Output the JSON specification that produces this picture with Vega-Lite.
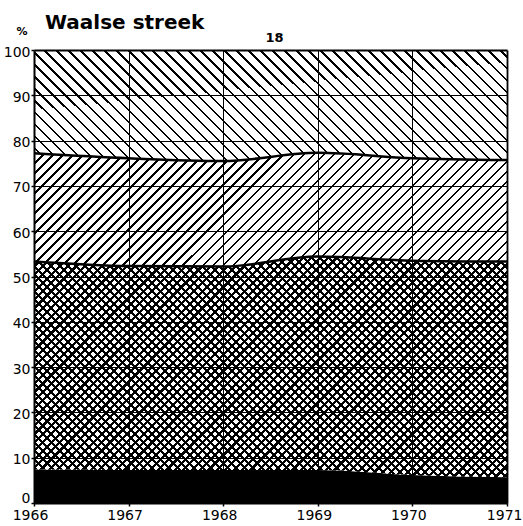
{
"$schema": "https://vega.github.io/schema/vega-lite/v6.json",
"width": 473, "height": 453,
"autosize": {"type": "none"},
"padding": {"left": 34, "top": 50, "right": 16, "bottom": 23},
"background": "white",
"config": {"view": {"stroke": null}, "font": "DejaVu Sans",
  "axis": {"labelFont": "DejaVu Sans", "titleFont": "DejaVu Sans", "labelColor": "#000", "titleColor": "#000", "tickColor": "#000", "domainColor": "#000", "gridColor": "#000", "gridOpacity": 1}},
"title": {"text": "Waalse streek", "anchor": "start", "frame": "group", "font": "DejaVu Sans", "fontSize": 20, "fontWeight": "bold", "color": "#000", "dx": 11, "dy": 23.5, "baseline": "alphabetic", "offset": 0},
"data": {"values": [
{"year":1966,"band":"a","share":7.4},{"year":1966,"band":"b","share":45.9},{"year":1966,"band":"c","share":23.9},{"year":1966,"band":"d","share":22.8},
{"year":1967,"band":"a","share":7.3},{"year":1967,"band":"b","share":45.0},{"year":1967,"band":"c","share":23.8},{"year":1967,"band":"d","share":23.9},
{"year":1968,"band":"a","share":7.3},{"year":1968,"band":"b","share":44.9},{"year":1968,"band":"c","share":23.3},{"year":1968,"band":"d","share":24.5},
{"year":1969,"band":"a","share":7.3},{"year":1969,"band":"b","share":47.1},{"year":1969,"band":"c","share":22.9},{"year":1969,"band":"d","share":22.7},
{"year":1970,"band":"a","share":6.2},{"year":1970,"band":"b","share":47.3},{"year":1970,"band":"c","share":22.6},{"year":1970,"band":"d","share":23.9},
{"year":1971,"band":"a","share":5.7},{"year":1971,"band":"b","share":47.6},{"year":1971,"band":"c","share":22.4},{"year":1971,"band":"d","share":24.3}
]},
"transform": [{"stack": "share", "groupby": ["year"], "sort": [{"field": "band", "order": "ascending"}], "as": ["lo", "hi"]}],
"encoding": {
  "x": {"field": "year", "type": "quantitative", "scale": {"domain": [1966, 1971], "nice": false, "zero": false},
    "axis": {"values": [1966,1967,1968,1969,1970,1971], "format": "d", "title": "18", "titleX": 240, "titleY": -462, "titleAlign": "center", "titleBaseline": "alphabetic", "titleFontSize": 13, "titleFontWeight": "bold",
      "labelFontSize": 14, "labelPadding": 2.5,
      "labelOffset": {"condition": {"test": "datum.value == 1971", "value": 15}, "value": -4},
      "labelAlign": {"condition": {"test": "datum.value == 1971", "value": "right"}, "value": "center"},
      "labelFlush": false, "labelOverlap": false, "labelBound": false, "tickSize": 3, "tickWidth": 1.5, "grid": true,
      "gridWidth": {"condition": {"test": "datum.value == 1971", "value": 1.8}, "value": 1}, "domainWidth": 2, "zindex": 1}},
  "y": {"field": "hi", "type": "quantitative", "scale": {"domain": [0, 100], "nice": false},
    "axis": {"values": [0,10,20,30,40,50,60,70,80,90,100], "title": "%", "titleAngle": 0, "titleAlign": "center", "titleBaseline": "alphabetic", "titleX": -12.5, "titleY": -16, "titleFontSize": 11, "titleFontWeight": "bold",
      "labelFontSize": 14, "labelPadding": 1,
      "labelOffset": {"condition": {"test": "datum.value == 0", "value": -5}, "value": 2},
      "tickSize": 3, "tickWidth": 1.5, "grid": true,
      "gridWidth": {"condition": {"test": "datum.value == 100", "value": 2}, "value": 1}, "domainWidth": 2, "zindex": 1}}
},
"layer": [
{"transform": [{"filter": "datum.band == 'a'"}], "mark": {"type": "area", "interpolate": "monotone", "fill": "#000"}, "encoding": {"y2": {"field": "lo"}}},
{"transform": [{"filter": "datum.band == 'b'"}], "mark": {"type": "area", "interpolate": "monotone", "fill": {"gradient": "linear", "x1": 0, "y1": 0, "x2": 1.2155, "y2": 0.5669, "stops": [
{"offset":0,"color":"#000"},{"offset":0.0045,"color":"#000"},{"offset":0.0045,"color":"#fff"},{"offset":0.012,"color":"#fff"},
{"offset":0.012,"color":"#000"},{"offset":0.0165,"color":"#000"},{"offset":0.0165,"color":"#fff"},{"offset":0.024,"color":"#fff"},
{"offset":0.024,"color":"#000"},{"offset":0.0285,"color":"#000"},{"offset":0.0285,"color":"#fff"},{"offset":0.036,"color":"#fff"},
{"offset":0.036,"color":"#000"},{"offset":0.0405,"color":"#000"},{"offset":0.0405,"color":"#fff"},{"offset":0.048,"color":"#fff"},
{"offset":0.048,"color":"#000"},{"offset":0.0525,"color":"#000"},{"offset":0.0525,"color":"#fff"},{"offset":0.06,"color":"#fff"},
{"offset":0.06,"color":"#000"},{"offset":0.0645,"color":"#000"},{"offset":0.0645,"color":"#fff"},{"offset":0.072,"color":"#fff"},
{"offset":0.072,"color":"#000"},{"offset":0.0765,"color":"#000"},{"offset":0.0765,"color":"#fff"},{"offset":0.084,"color":"#fff"},
{"offset":0.084,"color":"#000"},{"offset":0.0885,"color":"#000"},{"offset":0.0885,"color":"#fff"},{"offset":0.096,"color":"#fff"},
{"offset":0.096,"color":"#000"},{"offset":0.1005,"color":"#000"},{"offset":0.1005,"color":"#fff"},{"offset":0.108,"color":"#fff"},
{"offset":0.108,"color":"#000"},{"offset":0.1125,"color":"#000"},{"offset":0.1125,"color":"#fff"},{"offset":0.12,"color":"#fff"},
{"offset":0.12,"color":"#000"},{"offset":0.1245,"color":"#000"},{"offset":0.1245,"color":"#fff"},{"offset":0.132,"color":"#fff"},
{"offset":0.132,"color":"#000"},{"offset":0.1365,"color":"#000"},{"offset":0.1365,"color":"#fff"},{"offset":0.144,"color":"#fff"},
{"offset":0.144,"color":"#000"},{"offset":0.1485,"color":"#000"},{"offset":0.1485,"color":"#fff"},{"offset":0.156,"color":"#fff"},
{"offset":0.156,"color":"#000"},{"offset":0.1605,"color":"#000"},{"offset":0.1605,"color":"#fff"},{"offset":0.168,"color":"#fff"},
{"offset":0.168,"color":"#000"},{"offset":0.1725,"color":"#000"},{"offset":0.1725,"color":"#fff"},{"offset":0.18,"color":"#fff"},
{"offset":0.18,"color":"#000"},{"offset":0.1845,"color":"#000"},{"offset":0.1845,"color":"#fff"},{"offset":0.192,"color":"#fff"},
{"offset":0.192,"color":"#000"},{"offset":0.1965,"color":"#000"},{"offset":0.1965,"color":"#fff"},{"offset":0.204,"color":"#fff"},
{"offset":0.204,"color":"#000"},{"offset":0.2085,"color":"#000"},{"offset":0.2085,"color":"#fff"},{"offset":0.216,"color":"#fff"},
{"offset":0.216,"color":"#000"},{"offset":0.2205,"color":"#000"},{"offset":0.2205,"color":"#fff"},{"offset":0.228,"color":"#fff"},
{"offset":0.228,"color":"#000"},{"offset":0.2325,"color":"#000"},{"offset":0.2325,"color":"#fff"},{"offset":0.24,"color":"#fff"},
{"offset":0.24,"color":"#000"},{"offset":0.2445,"color":"#000"},{"offset":0.2445,"color":"#fff"},{"offset":0.252,"color":"#fff"},
{"offset":0.252,"color":"#000"},{"offset":0.2565,"color":"#000"},{"offset":0.2565,"color":"#fff"},{"offset":0.264,"color":"#fff"},
{"offset":0.264,"color":"#000"},{"offset":0.2685,"color":"#000"},{"offset":0.2685,"color":"#fff"},{"offset":0.276,"color":"#fff"},
{"offset":0.276,"color":"#000"},{"offset":0.2805,"color":"#000"},{"offset":0.2805,"color":"#fff"},{"offset":0.288,"color":"#fff"},
{"offset":0.288,"color":"#000"},{"offset":0.2925,"color":"#000"},{"offset":0.2925,"color":"#fff"},{"offset":0.3,"color":"#fff"},
{"offset":0.3,"color":"#000"},{"offset":0.3045,"color":"#000"},{"offset":0.3045,"color":"#fff"},{"offset":0.312,"color":"#fff"},
{"offset":0.312,"color":"#000"},{"offset":0.3165,"color":"#000"},{"offset":0.3165,"color":"#fff"},{"offset":0.324,"color":"#fff"},
{"offset":0.324,"color":"#000"},{"offset":0.3285,"color":"#000"},{"offset":0.3285,"color":"#fff"},{"offset":0.336,"color":"#fff"},
{"offset":0.336,"color":"#000"},{"offset":0.3405,"color":"#000"},{"offset":0.3405,"color":"#fff"},{"offset":0.348,"color":"#fff"},
{"offset":0.348,"color":"#000"},{"offset":0.3525,"color":"#000"},{"offset":0.3525,"color":"#fff"},{"offset":0.36,"color":"#fff"},
{"offset":0.36,"color":"#000"},{"offset":0.3645,"color":"#000"},{"offset":0.3645,"color":"#fff"},{"offset":0.372,"color":"#fff"},
{"offset":0.372,"color":"#000"},{"offset":0.3765,"color":"#000"},{"offset":0.3765,"color":"#fff"},{"offset":0.384,"color":"#fff"},
{"offset":0.384,"color":"#000"},{"offset":0.3885,"color":"#000"},{"offset":0.3885,"color":"#fff"},{"offset":0.396,"color":"#fff"},
{"offset":0.396,"color":"#000"},{"offset":0.4005,"color":"#000"},{"offset":0.4005,"color":"#fff"},{"offset":0.408,"color":"#fff"},
{"offset":0.408,"color":"#000"},{"offset":0.4125,"color":"#000"},{"offset":0.4125,"color":"#fff"},{"offset":0.42,"color":"#fff"},
{"offset":0.42,"color":"#000"},{"offset":0.4245,"color":"#000"},{"offset":0.4245,"color":"#fff"},{"offset":0.432,"color":"#fff"},
{"offset":0.432,"color":"#000"},{"offset":0.4365,"color":"#000"},{"offset":0.4365,"color":"#fff"},{"offset":0.444,"color":"#fff"},
{"offset":0.444,"color":"#000"},{"offset":0.4485,"color":"#000"},{"offset":0.4485,"color":"#fff"},{"offset":0.456,"color":"#fff"},
{"offset":0.456,"color":"#000"},{"offset":0.4605,"color":"#000"},{"offset":0.4605,"color":"#fff"},{"offset":0.468,"color":"#fff"},
{"offset":0.468,"color":"#000"},{"offset":0.4725,"color":"#000"},{"offset":0.4725,"color":"#fff"},{"offset":0.48,"color":"#fff"},
{"offset":0.48,"color":"#000"},{"offset":0.4845,"color":"#000"},{"offset":0.4845,"color":"#fff"},{"offset":0.492,"color":"#fff"},
{"offset":0.492,"color":"#000"},{"offset":0.4965,"color":"#000"},{"offset":0.4965,"color":"#fff"},{"offset":0.504,"color":"#fff"},
{"offset":0.504,"color":"#000"},{"offset":0.5085,"color":"#000"},{"offset":0.5085,"color":"#fff"},{"offset":0.516,"color":"#fff"},
{"offset":0.516,"color":"#000"},{"offset":0.5205,"color":"#000"},{"offset":0.5205,"color":"#fff"},{"offset":0.528,"color":"#fff"},
{"offset":0.528,"color":"#000"},{"offset":0.5325,"color":"#000"},{"offset":0.5325,"color":"#fff"},{"offset":0.54,"color":"#fff"},
{"offset":0.54,"color":"#000"},{"offset":0.5445,"color":"#000"},{"offset":0.5445,"color":"#fff"},{"offset":0.552,"color":"#fff"},
{"offset":0.552,"color":"#000"},{"offset":0.5565,"color":"#000"},{"offset":0.5565,"color":"#fff"},{"offset":0.564,"color":"#fff"},
{"offset":0.564,"color":"#000"},{"offset":0.5685,"color":"#000"},{"offset":0.5685,"color":"#fff"},{"offset":0.576,"color":"#fff"},
{"offset":0.576,"color":"#000"},{"offset":0.5805,"color":"#000"},{"offset":0.5805,"color":"#fff"},{"offset":0.588,"color":"#fff"},
{"offset":0.588,"color":"#000"},{"offset":0.5925,"color":"#000"},{"offset":0.5925,"color":"#fff"},{"offset":0.6,"color":"#fff"},
{"offset":0.6,"color":"#000"},{"offset":0.6045,"color":"#000"},{"offset":0.6045,"color":"#fff"},{"offset":0.612,"color":"#fff"},
{"offset":0.612,"color":"#000"},{"offset":0.6165,"color":"#000"},{"offset":0.6165,"color":"#fff"},{"offset":0.624,"color":"#fff"},
{"offset":0.624,"color":"#000"},{"offset":0.6285,"color":"#000"},{"offset":0.6285,"color":"#fff"},{"offset":0.636,"color":"#fff"},
{"offset":0.636,"color":"#000"},{"offset":0.6405,"color":"#000"},{"offset":0.6405,"color":"#fff"},{"offset":0.648,"color":"#fff"},
{"offset":0.648,"color":"#000"},{"offset":0.6525,"color":"#000"},{"offset":0.6525,"color":"#fff"},{"offset":0.66,"color":"#fff"},
{"offset":0.66,"color":"#000"},{"offset":0.6645,"color":"#000"},{"offset":0.6645,"color":"#fff"},{"offset":0.672,"color":"#fff"},
{"offset":0.672,"color":"#000"},{"offset":0.6765,"color":"#000"},{"offset":0.6765,"color":"#fff"},{"offset":0.684,"color":"#fff"},
{"offset":0.684,"color":"#000"},{"offset":0.6885,"color":"#000"},{"offset":0.6885,"color":"#fff"},{"offset":0.696,"color":"#fff"},
{"offset":0.696,"color":"#000"},{"offset":0.7005,"color":"#000"},{"offset":0.7005,"color":"#fff"},{"offset":0.708,"color":"#fff"},
{"offset":0.708,"color":"#000"},{"offset":0.7125,"color":"#000"},{"offset":0.7125,"color":"#fff"},{"offset":0.72,"color":"#fff"},
{"offset":0.72,"color":"#000"},{"offset":0.7245,"color":"#000"},{"offset":0.7245,"color":"#fff"},{"offset":0.732,"color":"#fff"},
{"offset":0.732,"color":"#000"},{"offset":0.7365,"color":"#000"},{"offset":0.7365,"color":"#fff"},{"offset":0.744,"color":"#fff"},
{"offset":0.744,"color":"#000"},{"offset":0.7485,"color":"#000"},{"offset":0.7485,"color":"#fff"},{"offset":0.756,"color":"#fff"},
{"offset":0.756,"color":"#000"},{"offset":0.7605,"color":"#000"},{"offset":0.7605,"color":"#fff"},{"offset":0.768,"color":"#fff"},
{"offset":0.768,"color":"#000"},{"offset":0.7725,"color":"#000"},{"offset":0.7725,"color":"#fff"},{"offset":0.78,"color":"#fff"},
{"offset":0.78,"color":"#000"},{"offset":0.7845,"color":"#000"},{"offset":0.7845,"color":"#fff"},{"offset":0.792,"color":"#fff"},
{"offset":0.792,"color":"#000"},{"offset":0.7965,"color":"#000"},{"offset":0.7965,"color":"#fff"},{"offset":0.804,"color":"#fff"},
{"offset":0.804,"color":"#000"},{"offset":0.8085,"color":"#000"},{"offset":0.8085,"color":"#fff"},{"offset":0.816,"color":"#fff"},
{"offset":0.816,"color":"#000"},{"offset":0.8205,"color":"#000"},{"offset":0.8205,"color":"#fff"},{"offset":0.828,"color":"#fff"},
{"offset":0.828,"color":"#000"},{"offset":0.8325,"color":"#000"},{"offset":0.8325,"color":"#fff"},{"offset":0.84,"color":"#fff"},
{"offset":0.84,"color":"#000"},{"offset":0.8445,"color":"#000"},{"offset":0.8445,"color":"#fff"},{"offset":0.852,"color":"#fff"},
{"offset":0.852,"color":"#000"},{"offset":0.8565,"color":"#000"},{"offset":0.8565,"color":"#fff"},{"offset":0.864,"color":"#fff"},
{"offset":0.864,"color":"#000"},{"offset":0.8685,"color":"#000"},{"offset":0.8685,"color":"#fff"},{"offset":0.876,"color":"#fff"},
{"offset":0.876,"color":"#000"},{"offset":0.8805,"color":"#000"},{"offset":0.8805,"color":"#fff"},{"offset":0.888,"color":"#fff"},
{"offset":0.888,"color":"#000"},{"offset":0.8925,"color":"#000"},{"offset":0.8925,"color":"#fff"},{"offset":0.9,"color":"#fff"},
{"offset":0.9,"color":"#000"},{"offset":0.9045,"color":"#000"},{"offset":0.9045,"color":"#fff"},{"offset":0.912,"color":"#fff"},
{"offset":0.912,"color":"#000"},{"offset":0.9165,"color":"#000"},{"offset":0.9165,"color":"#fff"},{"offset":0.924,"color":"#fff"},
{"offset":0.924,"color":"#000"},{"offset":0.9285,"color":"#000"},{"offset":0.9285,"color":"#fff"},{"offset":0.936,"color":"#fff"},
{"offset":0.936,"color":"#000"},{"offset":0.9405,"color":"#000"},{"offset":0.9405,"color":"#fff"},{"offset":0.948,"color":"#fff"},
{"offset":0.948,"color":"#000"},{"offset":0.9525,"color":"#000"},{"offset":0.9525,"color":"#fff"},{"offset":0.96,"color":"#fff"},
{"offset":0.96,"color":"#000"},{"offset":0.9645,"color":"#000"},{"offset":0.9645,"color":"#fff"},{"offset":0.972,"color":"#fff"},
{"offset":0.972,"color":"#000"},{"offset":0.9765,"color":"#000"},{"offset":0.9765,"color":"#fff"},{"offset":0.984,"color":"#fff"},
{"offset":0.984,"color":"#000"},{"offset":0.9885,"color":"#000"},{"offset":0.9885,"color":"#fff"},{"offset":0.996,"color":"#fff"}
]}}, "encoding": {"y2": {"field": "lo"}}},
{"transform": [{"filter": "datum.band == 'b'"}], "mark": {"type": "area", "interpolate": "monotone", "fill": {"gradient": "linear", "x1": 0, "y1": 1, "x2": 1.2155, "y2": 0.4331, "stops": [
{"offset":0,"color":"#000"},{"offset":0.0045,"color":"#000"},{"offset":0.0045,"color":"transparent"},{"offset":0.012,"color":"transparent"},
{"offset":0.012,"color":"#000"},{"offset":0.0165,"color":"#000"},{"offset":0.0165,"color":"transparent"},{"offset":0.024,"color":"transparent"},
{"offset":0.024,"color":"#000"},{"offset":0.0285,"color":"#000"},{"offset":0.0285,"color":"transparent"},{"offset":0.036,"color":"transparent"},
{"offset":0.036,"color":"#000"},{"offset":0.0405,"color":"#000"},{"offset":0.0405,"color":"transparent"},{"offset":0.048,"color":"transparent"},
{"offset":0.048,"color":"#000"},{"offset":0.0525,"color":"#000"},{"offset":0.0525,"color":"transparent"},{"offset":0.06,"color":"transparent"},
{"offset":0.06,"color":"#000"},{"offset":0.0645,"color":"#000"},{"offset":0.0645,"color":"transparent"},{"offset":0.072,"color":"transparent"},
{"offset":0.072,"color":"#000"},{"offset":0.0765,"color":"#000"},{"offset":0.0765,"color":"transparent"},{"offset":0.084,"color":"transparent"},
{"offset":0.084,"color":"#000"},{"offset":0.0885,"color":"#000"},{"offset":0.0885,"color":"transparent"},{"offset":0.096,"color":"transparent"},
{"offset":0.096,"color":"#000"},{"offset":0.1005,"color":"#000"},{"offset":0.1005,"color":"transparent"},{"offset":0.108,"color":"transparent"},
{"offset":0.108,"color":"#000"},{"offset":0.1125,"color":"#000"},{"offset":0.1125,"color":"transparent"},{"offset":0.12,"color":"transparent"},
{"offset":0.12,"color":"#000"},{"offset":0.1245,"color":"#000"},{"offset":0.1245,"color":"transparent"},{"offset":0.132,"color":"transparent"},
{"offset":0.132,"color":"#000"},{"offset":0.1365,"color":"#000"},{"offset":0.1365,"color":"transparent"},{"offset":0.144,"color":"transparent"},
{"offset":0.144,"color":"#000"},{"offset":0.1485,"color":"#000"},{"offset":0.1485,"color":"transparent"},{"offset":0.156,"color":"transparent"},
{"offset":0.156,"color":"#000"},{"offset":0.1605,"color":"#000"},{"offset":0.1605,"color":"transparent"},{"offset":0.168,"color":"transparent"},
{"offset":0.168,"color":"#000"},{"offset":0.1725,"color":"#000"},{"offset":0.1725,"color":"transparent"},{"offset":0.18,"color":"transparent"},
{"offset":0.18,"color":"#000"},{"offset":0.1845,"color":"#000"},{"offset":0.1845,"color":"transparent"},{"offset":0.192,"color":"transparent"},
{"offset":0.192,"color":"#000"},{"offset":0.1965,"color":"#000"},{"offset":0.1965,"color":"transparent"},{"offset":0.204,"color":"transparent"},
{"offset":0.204,"color":"#000"},{"offset":0.2085,"color":"#000"},{"offset":0.2085,"color":"transparent"},{"offset":0.216,"color":"transparent"},
{"offset":0.216,"color":"#000"},{"offset":0.2205,"color":"#000"},{"offset":0.2205,"color":"transparent"},{"offset":0.228,"color":"transparent"},
{"offset":0.228,"color":"#000"},{"offset":0.2325,"color":"#000"},{"offset":0.2325,"color":"transparent"},{"offset":0.24,"color":"transparent"},
{"offset":0.24,"color":"#000"},{"offset":0.2445,"color":"#000"},{"offset":0.2445,"color":"transparent"},{"offset":0.252,"color":"transparent"},
{"offset":0.252,"color":"#000"},{"offset":0.2565,"color":"#000"},{"offset":0.2565,"color":"transparent"},{"offset":0.264,"color":"transparent"},
{"offset":0.264,"color":"#000"},{"offset":0.2685,"color":"#000"},{"offset":0.2685,"color":"transparent"},{"offset":0.276,"color":"transparent"},
{"offset":0.276,"color":"#000"},{"offset":0.2805,"color":"#000"},{"offset":0.2805,"color":"transparent"},{"offset":0.288,"color":"transparent"},
{"offset":0.288,"color":"#000"},{"offset":0.2925,"color":"#000"},{"offset":0.2925,"color":"transparent"},{"offset":0.3,"color":"transparent"},
{"offset":0.3,"color":"#000"},{"offset":0.3045,"color":"#000"},{"offset":0.3045,"color":"transparent"},{"offset":0.312,"color":"transparent"},
{"offset":0.312,"color":"#000"},{"offset":0.3165,"color":"#000"},{"offset":0.3165,"color":"transparent"},{"offset":0.324,"color":"transparent"},
{"offset":0.324,"color":"#000"},{"offset":0.3285,"color":"#000"},{"offset":0.3285,"color":"transparent"},{"offset":0.336,"color":"transparent"},
{"offset":0.336,"color":"#000"},{"offset":0.3405,"color":"#000"},{"offset":0.3405,"color":"transparent"},{"offset":0.348,"color":"transparent"},
{"offset":0.348,"color":"#000"},{"offset":0.3525,"color":"#000"},{"offset":0.3525,"color":"transparent"},{"offset":0.36,"color":"transparent"},
{"offset":0.36,"color":"#000"},{"offset":0.3645,"color":"#000"},{"offset":0.3645,"color":"transparent"},{"offset":0.372,"color":"transparent"},
{"offset":0.372,"color":"#000"},{"offset":0.3765,"color":"#000"},{"offset":0.3765,"color":"transparent"},{"offset":0.384,"color":"transparent"},
{"offset":0.384,"color":"#000"},{"offset":0.3885,"color":"#000"},{"offset":0.3885,"color":"transparent"},{"offset":0.396,"color":"transparent"},
{"offset":0.396,"color":"#000"},{"offset":0.4005,"color":"#000"},{"offset":0.4005,"color":"transparent"},{"offset":0.408,"color":"transparent"},
{"offset":0.408,"color":"#000"},{"offset":0.4125,"color":"#000"},{"offset":0.4125,"color":"transparent"},{"offset":0.42,"color":"transparent"},
{"offset":0.42,"color":"#000"},{"offset":0.4245,"color":"#000"},{"offset":0.4245,"color":"transparent"},{"offset":0.432,"color":"transparent"},
{"offset":0.432,"color":"#000"},{"offset":0.4365,"color":"#000"},{"offset":0.4365,"color":"transparent"},{"offset":0.444,"color":"transparent"},
{"offset":0.444,"color":"#000"},{"offset":0.4485,"color":"#000"},{"offset":0.4485,"color":"transparent"},{"offset":0.456,"color":"transparent"},
{"offset":0.456,"color":"#000"},{"offset":0.4605,"color":"#000"},{"offset":0.4605,"color":"transparent"},{"offset":0.468,"color":"transparent"},
{"offset":0.468,"color":"#000"},{"offset":0.4725,"color":"#000"},{"offset":0.4725,"color":"transparent"},{"offset":0.48,"color":"transparent"},
{"offset":0.48,"color":"#000"},{"offset":0.4845,"color":"#000"},{"offset":0.4845,"color":"transparent"},{"offset":0.492,"color":"transparent"},
{"offset":0.492,"color":"#000"},{"offset":0.4965,"color":"#000"},{"offset":0.4965,"color":"transparent"},{"offset":0.504,"color":"transparent"},
{"offset":0.504,"color":"#000"},{"offset":0.5085,"color":"#000"},{"offset":0.5085,"color":"transparent"},{"offset":0.516,"color":"transparent"},
{"offset":0.516,"color":"#000"},{"offset":0.5205,"color":"#000"},{"offset":0.5205,"color":"transparent"},{"offset":0.528,"color":"transparent"},
{"offset":0.528,"color":"#000"},{"offset":0.5325,"color":"#000"},{"offset":0.5325,"color":"transparent"},{"offset":0.54,"color":"transparent"},
{"offset":0.54,"color":"#000"},{"offset":0.5445,"color":"#000"},{"offset":0.5445,"color":"transparent"},{"offset":0.552,"color":"transparent"},
{"offset":0.552,"color":"#000"},{"offset":0.5565,"color":"#000"},{"offset":0.5565,"color":"transparent"},{"offset":0.564,"color":"transparent"},
{"offset":0.564,"color":"#000"},{"offset":0.5685,"color":"#000"},{"offset":0.5685,"color":"transparent"},{"offset":0.576,"color":"transparent"},
{"offset":0.576,"color":"#000"},{"offset":0.5805,"color":"#000"},{"offset":0.5805,"color":"transparent"},{"offset":0.588,"color":"transparent"},
{"offset":0.588,"color":"#000"},{"offset":0.5925,"color":"#000"},{"offset":0.5925,"color":"transparent"},{"offset":0.6,"color":"transparent"},
{"offset":0.6,"color":"#000"},{"offset":0.6045,"color":"#000"},{"offset":0.6045,"color":"transparent"},{"offset":0.612,"color":"transparent"},
{"offset":0.612,"color":"#000"},{"offset":0.6165,"color":"#000"},{"offset":0.6165,"color":"transparent"},{"offset":0.624,"color":"transparent"},
{"offset":0.624,"color":"#000"},{"offset":0.6285,"color":"#000"},{"offset":0.6285,"color":"transparent"},{"offset":0.636,"color":"transparent"},
{"offset":0.636,"color":"#000"},{"offset":0.6405,"color":"#000"},{"offset":0.6405,"color":"transparent"},{"offset":0.648,"color":"transparent"},
{"offset":0.648,"color":"#000"},{"offset":0.6525,"color":"#000"},{"offset":0.6525,"color":"transparent"},{"offset":0.66,"color":"transparent"},
{"offset":0.66,"color":"#000"},{"offset":0.6645,"color":"#000"},{"offset":0.6645,"color":"transparent"},{"offset":0.672,"color":"transparent"},
{"offset":0.672,"color":"#000"},{"offset":0.6765,"color":"#000"},{"offset":0.6765,"color":"transparent"},{"offset":0.684,"color":"transparent"},
{"offset":0.684,"color":"#000"},{"offset":0.6885,"color":"#000"},{"offset":0.6885,"color":"transparent"},{"offset":0.696,"color":"transparent"},
{"offset":0.696,"color":"#000"},{"offset":0.7005,"color":"#000"},{"offset":0.7005,"color":"transparent"},{"offset":0.708,"color":"transparent"},
{"offset":0.708,"color":"#000"},{"offset":0.7125,"color":"#000"},{"offset":0.7125,"color":"transparent"},{"offset":0.72,"color":"transparent"},
{"offset":0.72,"color":"#000"},{"offset":0.7245,"color":"#000"},{"offset":0.7245,"color":"transparent"},{"offset":0.732,"color":"transparent"},
{"offset":0.732,"color":"#000"},{"offset":0.7365,"color":"#000"},{"offset":0.7365,"color":"transparent"},{"offset":0.744,"color":"transparent"},
{"offset":0.744,"color":"#000"},{"offset":0.7485,"color":"#000"},{"offset":0.7485,"color":"transparent"},{"offset":0.756,"color":"transparent"},
{"offset":0.756,"color":"#000"},{"offset":0.7605,"color":"#000"},{"offset":0.7605,"color":"transparent"},{"offset":0.768,"color":"transparent"},
{"offset":0.768,"color":"#000"},{"offset":0.7725,"color":"#000"},{"offset":0.7725,"color":"transparent"},{"offset":0.78,"color":"transparent"},
{"offset":0.78,"color":"#000"},{"offset":0.7845,"color":"#000"},{"offset":0.7845,"color":"transparent"},{"offset":0.792,"color":"transparent"},
{"offset":0.792,"color":"#000"},{"offset":0.7965,"color":"#000"},{"offset":0.7965,"color":"transparent"},{"offset":0.804,"color":"transparent"},
{"offset":0.804,"color":"#000"},{"offset":0.8085,"color":"#000"},{"offset":0.8085,"color":"transparent"},{"offset":0.816,"color":"transparent"},
{"offset":0.816,"color":"#000"},{"offset":0.8205,"color":"#000"},{"offset":0.8205,"color":"transparent"},{"offset":0.828,"color":"transparent"},
{"offset":0.828,"color":"#000"},{"offset":0.8325,"color":"#000"},{"offset":0.8325,"color":"transparent"},{"offset":0.84,"color":"transparent"},
{"offset":0.84,"color":"#000"},{"offset":0.8445,"color":"#000"},{"offset":0.8445,"color":"transparent"},{"offset":0.852,"color":"transparent"},
{"offset":0.852,"color":"#000"},{"offset":0.8565,"color":"#000"},{"offset":0.8565,"color":"transparent"},{"offset":0.864,"color":"transparent"},
{"offset":0.864,"color":"#000"},{"offset":0.8685,"color":"#000"},{"offset":0.8685,"color":"transparent"},{"offset":0.876,"color":"transparent"},
{"offset":0.876,"color":"#000"},{"offset":0.8805,"color":"#000"},{"offset":0.8805,"color":"transparent"},{"offset":0.888,"color":"transparent"},
{"offset":0.888,"color":"#000"},{"offset":0.8925,"color":"#000"},{"offset":0.8925,"color":"transparent"},{"offset":0.9,"color":"transparent"},
{"offset":0.9,"color":"#000"},{"offset":0.9045,"color":"#000"},{"offset":0.9045,"color":"transparent"},{"offset":0.912,"color":"transparent"},
{"offset":0.912,"color":"#000"},{"offset":0.9165,"color":"#000"},{"offset":0.9165,"color":"transparent"},{"offset":0.924,"color":"transparent"},
{"offset":0.924,"color":"#000"},{"offset":0.9285,"color":"#000"},{"offset":0.9285,"color":"transparent"},{"offset":0.936,"color":"transparent"},
{"offset":0.936,"color":"#000"},{"offset":0.9405,"color":"#000"},{"offset":0.9405,"color":"transparent"},{"offset":0.948,"color":"transparent"},
{"offset":0.948,"color":"#000"},{"offset":0.9525,"color":"#000"},{"offset":0.9525,"color":"transparent"},{"offset":0.96,"color":"transparent"},
{"offset":0.96,"color":"#000"},{"offset":0.9645,"color":"#000"},{"offset":0.9645,"color":"transparent"},{"offset":0.972,"color":"transparent"},
{"offset":0.972,"color":"#000"},{"offset":0.9765,"color":"#000"},{"offset":0.9765,"color":"transparent"},{"offset":0.984,"color":"transparent"},
{"offset":0.984,"color":"#000"},{"offset":0.9885,"color":"#000"},{"offset":0.9885,"color":"transparent"},{"offset":0.996,"color":"transparent"}
]}}, "encoding": {"y2": {"field": "lo"}}},
{"transform": [{"filter": "datum.band == 'c'"}], "mark": {"type": "area", "interpolate": "monotone", "fill": {"gradient": "linear", "x1": 0, "y1": 0, "x2": 1.25, "y2": 0.3005, "stops": [
{"offset":0,"color":"#000"},{"offset":0.0035,"color":"#000"},{"offset":0.0035,"color":"#fff"},{"offset":0.016,"color":"#fff"},
{"offset":0.016,"color":"#000"},{"offset":0.0195,"color":"#000"},{"offset":0.0195,"color":"#fff"},{"offset":0.032,"color":"#fff"},
{"offset":0.032,"color":"#000"},{"offset":0.0355,"color":"#000"},{"offset":0.0355,"color":"#fff"},{"offset":0.048,"color":"#fff"},
{"offset":0.048,"color":"#000"},{"offset":0.0515,"color":"#000"},{"offset":0.0515,"color":"#fff"},{"offset":0.064,"color":"#fff"},
{"offset":0.064,"color":"#000"},{"offset":0.0675,"color":"#000"},{"offset":0.0675,"color":"#fff"},{"offset":0.08,"color":"#fff"},
{"offset":0.08,"color":"#000"},{"offset":0.0835,"color":"#000"},{"offset":0.0835,"color":"#fff"},{"offset":0.096,"color":"#fff"},
{"offset":0.096,"color":"#000"},{"offset":0.0995,"color":"#000"},{"offset":0.0995,"color":"#fff"},{"offset":0.112,"color":"#fff"},
{"offset":0.112,"color":"#000"},{"offset":0.1155,"color":"#000"},{"offset":0.1155,"color":"#fff"},{"offset":0.128,"color":"#fff"},
{"offset":0.128,"color":"#000"},{"offset":0.1315,"color":"#000"},{"offset":0.1315,"color":"#fff"},{"offset":0.144,"color":"#fff"},
{"offset":0.144,"color":"#000"},{"offset":0.1475,"color":"#000"},{"offset":0.1475,"color":"#fff"},{"offset":0.16,"color":"#fff"},
{"offset":0.16,"color":"#000"},{"offset":0.1635,"color":"#000"},{"offset":0.1635,"color":"#fff"},{"offset":0.176,"color":"#fff"},
{"offset":0.176,"color":"#000"},{"offset":0.1795,"color":"#000"},{"offset":0.1795,"color":"#fff"},{"offset":0.192,"color":"#fff"},
{"offset":0.192,"color":"#000"},{"offset":0.1955,"color":"#000"},{"offset":0.1955,"color":"#fff"},{"offset":0.208,"color":"#fff"},
{"offset":0.208,"color":"#000"},{"offset":0.2115,"color":"#000"},{"offset":0.2115,"color":"#fff"},{"offset":0.224,"color":"#fff"},
{"offset":0.224,"color":"#000"},{"offset":0.2275,"color":"#000"},{"offset":0.2275,"color":"#fff"},{"offset":0.24,"color":"#fff"},
{"offset":0.24,"color":"#000"},{"offset":0.2435,"color":"#000"},{"offset":0.2435,"color":"#fff"},{"offset":0.256,"color":"#fff"},
{"offset":0.256,"color":"#000"},{"offset":0.2595,"color":"#000"},{"offset":0.2595,"color":"#fff"},{"offset":0.272,"color":"#fff"},
{"offset":0.272,"color":"#000"},{"offset":0.2755,"color":"#000"},{"offset":0.2755,"color":"#fff"},{"offset":0.288,"color":"#fff"},
{"offset":0.288,"color":"#000"},{"offset":0.2915,"color":"#000"},{"offset":0.2915,"color":"#fff"},{"offset":0.304,"color":"#fff"},
{"offset":0.304,"color":"#000"},{"offset":0.3075,"color":"#000"},{"offset":0.3075,"color":"#fff"},{"offset":0.32,"color":"#fff"},
{"offset":0.32,"color":"#000"},{"offset":0.3235,"color":"#000"},{"offset":0.3235,"color":"#fff"},{"offset":0.336,"color":"#fff"},
{"offset":0.336,"color":"#000"},{"offset":0.3395,"color":"#000"},{"offset":0.3395,"color":"#fff"},{"offset":0.352,"color":"#fff"},
{"offset":0.352,"color":"#000"},{"offset":0.3555,"color":"#000"},{"offset":0.3555,"color":"#fff"},{"offset":0.368,"color":"#fff"},
{"offset":0.368,"color":"#000"},{"offset":0.3715,"color":"#000"},{"offset":0.3715,"color":"#fff"},{"offset":0.384,"color":"#fff"},
{"offset":0.384,"color":"#000"},{"offset":0.3875,"color":"#000"},{"offset":0.3875,"color":"#fff"},{"offset":0.4,"color":"#fff"},
{"offset":0.4,"color":"#000"},{"offset":0.4035,"color":"#000"},{"offset":0.4035,"color":"#fff"},{"offset":0.416,"color":"#fff"},
{"offset":0.416,"color":"#000"},{"offset":0.4195,"color":"#000"},{"offset":0.4195,"color":"#fff"},{"offset":0.432,"color":"#fff"},
{"offset":0.432,"color":"#000"},{"offset":0.4355,"color":"#000"},{"offset":0.4355,"color":"#fff"},{"offset":0.448,"color":"#fff"},
{"offset":0.448,"color":"#000"},{"offset":0.4515,"color":"#000"},{"offset":0.4515,"color":"#fff"},{"offset":0.464,"color":"#fff"},
{"offset":0.464,"color":"#000"},{"offset":0.4675,"color":"#000"},{"offset":0.4675,"color":"#fff"},{"offset":0.48,"color":"#fff"},
{"offset":0.48,"color":"#000"},{"offset":0.4835,"color":"#000"},{"offset":0.4835,"color":"#fff"},{"offset":0.496,"color":"#fff"},
{"offset":0.496,"color":"#000"},{"offset":0.4995,"color":"#000"},{"offset":0.4995,"color":"#fff"},{"offset":0.512,"color":"#fff"},
{"offset":0.512,"color":"#000"},{"offset":0.5155,"color":"#000"},{"offset":0.5155,"color":"#fff"},{"offset":0.528,"color":"#fff"},
{"offset":0.528,"color":"#000"},{"offset":0.5315,"color":"#000"},{"offset":0.5315,"color":"#fff"},{"offset":0.544,"color":"#fff"},
{"offset":0.544,"color":"#000"},{"offset":0.5475,"color":"#000"},{"offset":0.5475,"color":"#fff"},{"offset":0.56,"color":"#fff"},
{"offset":0.56,"color":"#000"},{"offset":0.5635,"color":"#000"},{"offset":0.5635,"color":"#fff"},{"offset":0.576,"color":"#fff"},
{"offset":0.576,"color":"#000"},{"offset":0.5795,"color":"#000"},{"offset":0.5795,"color":"#fff"},{"offset":0.592,"color":"#fff"},
{"offset":0.592,"color":"#000"},{"offset":0.5955,"color":"#000"},{"offset":0.5955,"color":"#fff"},{"offset":0.608,"color":"#fff"},
{"offset":0.608,"color":"#000"},{"offset":0.6115,"color":"#000"},{"offset":0.6115,"color":"#fff"},{"offset":0.624,"color":"#fff"},
{"offset":0.624,"color":"#000"},{"offset":0.6275,"color":"#000"},{"offset":0.6275,"color":"#fff"},{"offset":0.64,"color":"#fff"},
{"offset":0.64,"color":"#000"},{"offset":0.6435,"color":"#000"},{"offset":0.6435,"color":"#fff"},{"offset":0.656,"color":"#fff"},
{"offset":0.656,"color":"#000"},{"offset":0.6595,"color":"#000"},{"offset":0.6595,"color":"#fff"},{"offset":0.672,"color":"#fff"},
{"offset":0.672,"color":"#000"},{"offset":0.6755,"color":"#000"},{"offset":0.6755,"color":"#fff"},{"offset":0.688,"color":"#fff"},
{"offset":0.688,"color":"#000"},{"offset":0.6915,"color":"#000"},{"offset":0.6915,"color":"#fff"},{"offset":0.704,"color":"#fff"},
{"offset":0.704,"color":"#000"},{"offset":0.7075,"color":"#000"},{"offset":0.7075,"color":"#fff"},{"offset":0.72,"color":"#fff"},
{"offset":0.72,"color":"#000"},{"offset":0.7235,"color":"#000"},{"offset":0.7235,"color":"#fff"},{"offset":0.736,"color":"#fff"},
{"offset":0.736,"color":"#000"},{"offset":0.7395,"color":"#000"},{"offset":0.7395,"color":"#fff"},{"offset":0.752,"color":"#fff"},
{"offset":0.752,"color":"#000"},{"offset":0.7555,"color":"#000"},{"offset":0.7555,"color":"#fff"},{"offset":0.768,"color":"#fff"},
{"offset":0.768,"color":"#000"},{"offset":0.7715,"color":"#000"},{"offset":0.7715,"color":"#fff"},{"offset":0.784,"color":"#fff"},
{"offset":0.784,"color":"#000"},{"offset":0.7875,"color":"#000"},{"offset":0.7875,"color":"#fff"},{"offset":0.8,"color":"#fff"},
{"offset":0.8,"color":"#000"},{"offset":0.8035,"color":"#000"},{"offset":0.8035,"color":"#fff"},{"offset":0.816,"color":"#fff"},
{"offset":0.816,"color":"#000"},{"offset":0.8195,"color":"#000"},{"offset":0.8195,"color":"#fff"},{"offset":0.832,"color":"#fff"},
{"offset":0.832,"color":"#000"},{"offset":0.8355,"color":"#000"},{"offset":0.8355,"color":"#fff"},{"offset":0.848,"color":"#fff"},
{"offset":0.848,"color":"#000"},{"offset":0.8515,"color":"#000"},{"offset":0.8515,"color":"#fff"},{"offset":0.864,"color":"#fff"},
{"offset":0.864,"color":"#000"},{"offset":0.8675,"color":"#000"},{"offset":0.8675,"color":"#fff"},{"offset":0.88,"color":"#fff"},
{"offset":0.88,"color":"#000"},{"offset":0.8835,"color":"#000"},{"offset":0.8835,"color":"#fff"},{"offset":0.896,"color":"#fff"},
{"offset":0.896,"color":"#000"},{"offset":0.8995,"color":"#000"},{"offset":0.8995,"color":"#fff"},{"offset":0.912,"color":"#fff"},
{"offset":0.912,"color":"#000"},{"offset":0.9155,"color":"#000"},{"offset":0.9155,"color":"#fff"},{"offset":0.928,"color":"#fff"},
{"offset":0.928,"color":"#000"},{"offset":0.9315,"color":"#000"},{"offset":0.9315,"color":"#fff"},{"offset":0.944,"color":"#fff"}
]}}, "encoding": {"y2": {"field": "lo"}}},
{"transform": [{"filter": "datum.band == 'd'"}], "mark": {"type": "area", "interpolate": "monotone", "fill": {"gradient": "linear", "x1": 0, "y1": 1, "x2": 1.2023, "y2": 0.7178, "stops": [
{"offset":0,"color":"#000"},{"offset":0.0036,"color":"#000"},{"offset":0.0036,"color":"#fff"},{"offset":0.02,"color":"#fff"},
{"offset":0.02,"color":"#000"},{"offset":0.0236,"color":"#000"},{"offset":0.0236,"color":"#fff"},{"offset":0.04,"color":"#fff"},
{"offset":0.04,"color":"#000"},{"offset":0.0436,"color":"#000"},{"offset":0.0436,"color":"#fff"},{"offset":0.06,"color":"#fff"},
{"offset":0.06,"color":"#000"},{"offset":0.0636,"color":"#000"},{"offset":0.0636,"color":"#fff"},{"offset":0.08,"color":"#fff"},
{"offset":0.08,"color":"#000"},{"offset":0.0836,"color":"#000"},{"offset":0.0836,"color":"#fff"},{"offset":0.1,"color":"#fff"},
{"offset":0.1,"color":"#000"},{"offset":0.1036,"color":"#000"},{"offset":0.1036,"color":"#fff"},{"offset":0.12,"color":"#fff"},
{"offset":0.12,"color":"#000"},{"offset":0.1236,"color":"#000"},{"offset":0.1236,"color":"#fff"},{"offset":0.14,"color":"#fff"},
{"offset":0.14,"color":"#000"},{"offset":0.1436,"color":"#000"},{"offset":0.1436,"color":"#fff"},{"offset":0.16,"color":"#fff"},
{"offset":0.16,"color":"#000"},{"offset":0.1636,"color":"#000"},{"offset":0.1636,"color":"#fff"},{"offset":0.18,"color":"#fff"},
{"offset":0.18,"color":"#000"},{"offset":0.1836,"color":"#000"},{"offset":0.1836,"color":"#fff"},{"offset":0.2,"color":"#fff"},
{"offset":0.2,"color":"#000"},{"offset":0.2036,"color":"#000"},{"offset":0.2036,"color":"#fff"},{"offset":0.22,"color":"#fff"},
{"offset":0.22,"color":"#000"},{"offset":0.2236,"color":"#000"},{"offset":0.2236,"color":"#fff"},{"offset":0.24,"color":"#fff"},
{"offset":0.24,"color":"#000"},{"offset":0.2436,"color":"#000"},{"offset":0.2436,"color":"#fff"},{"offset":0.26,"color":"#fff"},
{"offset":0.26,"color":"#000"},{"offset":0.2636,"color":"#000"},{"offset":0.2636,"color":"#fff"},{"offset":0.28,"color":"#fff"},
{"offset":0.28,"color":"#000"},{"offset":0.2836,"color":"#000"},{"offset":0.2836,"color":"#fff"},{"offset":0.3,"color":"#fff"},
{"offset":0.3,"color":"#000"},{"offset":0.3036,"color":"#000"},{"offset":0.3036,"color":"#fff"},{"offset":0.32,"color":"#fff"},
{"offset":0.32,"color":"#000"},{"offset":0.3236,"color":"#000"},{"offset":0.3236,"color":"#fff"},{"offset":0.34,"color":"#fff"},
{"offset":0.34,"color":"#000"},{"offset":0.3436,"color":"#000"},{"offset":0.3436,"color":"#fff"},{"offset":0.36,"color":"#fff"},
{"offset":0.36,"color":"#000"},{"offset":0.3636,"color":"#000"},{"offset":0.3636,"color":"#fff"},{"offset":0.38,"color":"#fff"},
{"offset":0.38,"color":"#000"},{"offset":0.3836,"color":"#000"},{"offset":0.3836,"color":"#fff"},{"offset":0.4,"color":"#fff"},
{"offset":0.4,"color":"#000"},{"offset":0.4036,"color":"#000"},{"offset":0.4036,"color":"#fff"},{"offset":0.42,"color":"#fff"},
{"offset":0.42,"color":"#000"},{"offset":0.4236,"color":"#000"},{"offset":0.4236,"color":"#fff"},{"offset":0.44,"color":"#fff"},
{"offset":0.44,"color":"#000"},{"offset":0.4436,"color":"#000"},{"offset":0.4436,"color":"#fff"},{"offset":0.46,"color":"#fff"},
{"offset":0.46,"color":"#000"},{"offset":0.4636,"color":"#000"},{"offset":0.4636,"color":"#fff"},{"offset":0.48,"color":"#fff"},
{"offset":0.48,"color":"#000"},{"offset":0.4836,"color":"#000"},{"offset":0.4836,"color":"#fff"},{"offset":0.5,"color":"#fff"},
{"offset":0.5,"color":"#000"},{"offset":0.5036,"color":"#000"},{"offset":0.5036,"color":"#fff"},{"offset":0.52,"color":"#fff"},
{"offset":0.52,"color":"#000"},{"offset":0.5236,"color":"#000"},{"offset":0.5236,"color":"#fff"},{"offset":0.54,"color":"#fff"},
{"offset":0.54,"color":"#000"},{"offset":0.5436,"color":"#000"},{"offset":0.5436,"color":"#fff"},{"offset":0.56,"color":"#fff"},
{"offset":0.56,"color":"#000"},{"offset":0.5636,"color":"#000"},{"offset":0.5636,"color":"#fff"},{"offset":0.58,"color":"#fff"},
{"offset":0.58,"color":"#000"},{"offset":0.5836,"color":"#000"},{"offset":0.5836,"color":"#fff"},{"offset":0.6,"color":"#fff"},
{"offset":0.6,"color":"#000"},{"offset":0.6036,"color":"#000"},{"offset":0.6036,"color":"#fff"},{"offset":0.62,"color":"#fff"},
{"offset":0.62,"color":"#000"},{"offset":0.6236,"color":"#000"},{"offset":0.6236,"color":"#fff"},{"offset":0.64,"color":"#fff"},
{"offset":0.64,"color":"#000"},{"offset":0.6436,"color":"#000"},{"offset":0.6436,"color":"#fff"},{"offset":0.66,"color":"#fff"},
{"offset":0.66,"color":"#000"},{"offset":0.6636,"color":"#000"},{"offset":0.6636,"color":"#fff"},{"offset":0.68,"color":"#fff"},
{"offset":0.68,"color":"#000"},{"offset":0.6836,"color":"#000"},{"offset":0.6836,"color":"#fff"},{"offset":0.7,"color":"#fff"},
{"offset":0.7,"color":"#000"},{"offset":0.7036,"color":"#000"},{"offset":0.7036,"color":"#fff"},{"offset":0.72,"color":"#fff"},
{"offset":0.72,"color":"#000"},{"offset":0.7236,"color":"#000"},{"offset":0.7236,"color":"#fff"},{"offset":0.74,"color":"#fff"},
{"offset":0.74,"color":"#000"},{"offset":0.7436,"color":"#000"},{"offset":0.7436,"color":"#fff"},{"offset":0.76,"color":"#fff"},
{"offset":0.76,"color":"#000"},{"offset":0.7636,"color":"#000"},{"offset":0.7636,"color":"#fff"},{"offset":0.78,"color":"#fff"},
{"offset":0.78,"color":"#000"},{"offset":0.7836,"color":"#000"},{"offset":0.7836,"color":"#fff"},{"offset":0.8,"color":"#fff"},
{"offset":0.8,"color":"#000"},{"offset":0.8036,"color":"#000"},{"offset":0.8036,"color":"#fff"},{"offset":0.82,"color":"#fff"},
{"offset":0.82,"color":"#000"},{"offset":0.8236,"color":"#000"},{"offset":0.8236,"color":"#fff"},{"offset":0.84,"color":"#fff"},
{"offset":0.84,"color":"#000"},{"offset":0.8436,"color":"#000"},{"offset":0.8436,"color":"#fff"},{"offset":0.86,"color":"#fff"},
{"offset":0.86,"color":"#000"},{"offset":0.8636,"color":"#000"},{"offset":0.8636,"color":"#fff"},{"offset":0.88,"color":"#fff"},
{"offset":0.88,"color":"#000"},{"offset":0.8836,"color":"#000"},{"offset":0.8836,"color":"#fff"},{"offset":0.9,"color":"#fff"},
{"offset":0.9,"color":"#000"},{"offset":0.9036,"color":"#000"},{"offset":0.9036,"color":"#fff"},{"offset":0.92,"color":"#fff"},
{"offset":0.92,"color":"#000"},{"offset":0.9236,"color":"#000"},{"offset":0.9236,"color":"#fff"},{"offset":0.94,"color":"#fff"},
{"offset":0.94,"color":"#000"},{"offset":0.9436,"color":"#000"},{"offset":0.9436,"color":"#fff"},{"offset":0.96,"color":"#fff"},
{"offset":0.96,"color":"#000"},{"offset":0.9636,"color":"#000"},{"offset":0.9636,"color":"#fff"},{"offset":0.98,"color":"#fff"}
]}}, "encoding": {"y2": {"field": "lo"}}},
{"transform": [{"filter": "datum.band == 'b' || datum.band == 'c'"}], "mark": {"type": "line", "interpolate": "monotone", "color": "#000", "strokeWidth": 2.5}, "encoding": {"detail": {"field": "band"}}}
]
}
